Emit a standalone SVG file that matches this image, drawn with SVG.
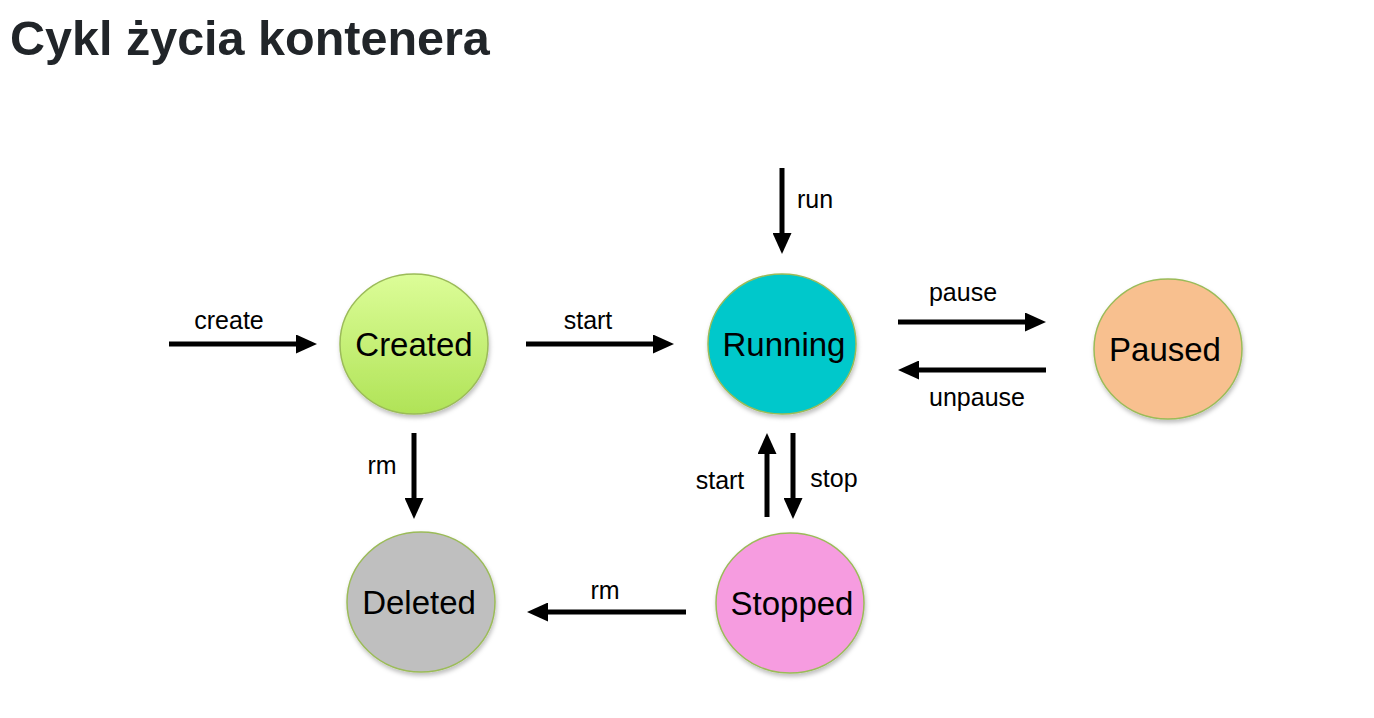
<svg xmlns="http://www.w3.org/2000/svg" width="1374" height="718" viewBox="0 0 1374 718">
<style>
.title{font-family:"Liberation Sans",Arial,sans-serif;font-weight:bold;font-size:48.5px;fill:#212529}
.node{font-family:"Liberation Sans",Arial,sans-serif;font-size:33px;fill:#000;text-anchor:middle}
.lbl{font-family:"Liberation Sans",Arial,sans-serif;font-size:25px;fill:#000;text-anchor:middle}
.c{stroke:#9bbb59;stroke-width:1.5}
.arr{stroke:#000;stroke-width:5;fill:none;marker-end:url(#ah)}
</style>
<defs>
<marker id="ah" markerUnits="userSpaceOnUse" markerWidth="21" markerHeight="19" refX="6" refY="9.5" orient="auto">
<path d="M0,0 L21,9.5 L0,19 z" fill="#000"/>
</marker>
<linearGradient id="gCreated" x1="0" y1="0" x2="0" y2="1">
<stop offset="0" stop-color="#dcfd98"/>
<stop offset="1" stop-color="#b0e357"/>
</linearGradient>
<filter id="sh" x="-20%" y="-20%" width="140%" height="140%">
<feDropShadow dx="1" dy="3" stdDeviation="2" flood-color="#000" flood-opacity="0.25"/>
</filter>
</defs>
<rect width="1374" height="718" fill="#fff"/>
<text class="title" x="10" y="55">Cykl życia kontenera</text>

<g id="connectors">
<line class="arr" x1="169" y1="344" x2="302" y2="344"/>
<line class="arr" x1="526" y1="344" x2="659" y2="344"/>
<line class="arr" x1="782" y1="168" x2="782" y2="239"/>
<line class="arr" x1="898" y1="322" x2="1031" y2="322"/>
<line class="arr" x1="1046" y1="370" x2="913" y2="370"/>
<line class="arr" x1="414" y1="433" x2="414" y2="504"/>
<line class="arr" x1="767" y1="517" x2="767" y2="448"/>
<line class="arr" x1="793" y1="433" x2="793" y2="504"/>
<line class="arr" x1="686" y1="612" x2="542" y2="612"/>
<text class="lbl" x="229" y="329">create</text>
<text class="lbl" x="588" y="329">start</text>
<text class="lbl" x="815" y="208">run</text>
<text class="lbl" x="963" y="301">pause</text>
<text class="lbl" x="977" y="406">unpause</text>
<text class="lbl" x="382" y="474">rm</text>
<text class="lbl" x="720" y="489">start</text>
<text class="lbl" x="834" y="487">stop</text>
<text class="lbl" x="605" y="599">rm</text>
</g>

<g id="created">
<ellipse class="c" cx="414" cy="344" rx="74" ry="70" fill="url(#gCreated)" filter="url(#sh)"/>
<text class="node" x="414" y="356">Created</text>
</g>
<g id="running">
<ellipse class="c" cx="782" cy="344" rx="74" ry="70" fill="#00c8cb" filter="url(#sh)"/>
<text class="node" x="784" y="356">Running</text>
</g>
<g id="paused">
<ellipse class="c" cx="1168" cy="349" rx="74" ry="70" fill="#f8c08f" filter="url(#sh)"/>
<text class="node" x="1165" y="361">Paused</text>
</g>
<g id="deleted">
<ellipse class="c" cx="421" cy="602" rx="74" ry="70" fill="#bfbfbf" filter="url(#sh)"/>
<text class="node" x="419" y="614">Deleted</text>
</g>
<g id="stopped">
<ellipse class="c" cx="790" cy="603" rx="74" ry="70" fill="#f69ce0" filter="url(#sh)"/>
<text class="node" x="792" y="615">Stopped</text>
</g>
</svg>
